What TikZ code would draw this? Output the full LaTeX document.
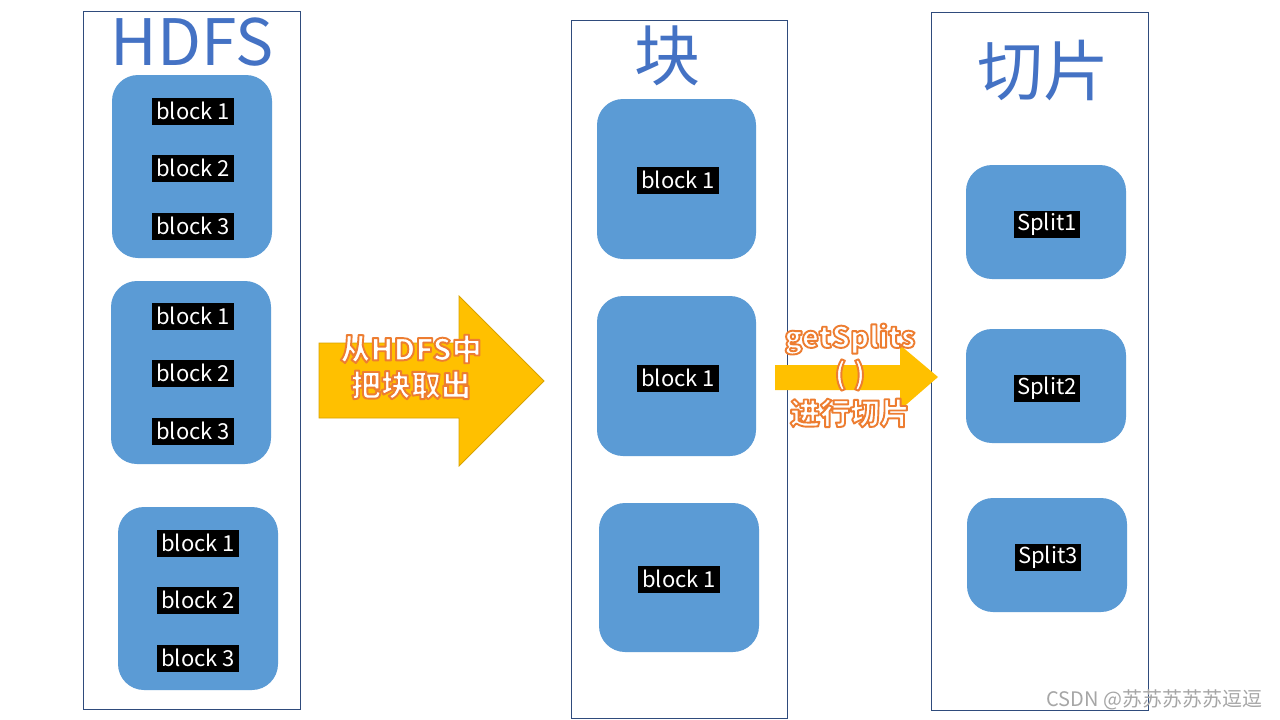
\documentclass[tikz,border=0pt]{standalone}
\usepackage{fontspec}
\setmainfont{Noto Sans CJK SC}
\definecolor{frameblue}{HTML}{2F4B7C}
\definecolor{boxblue}{HTML}{5B9BD5}
\definecolor{titleblue}{HTML}{4472C4}
\definecolor{arrowyellow}{HTML}{FFC000}
\definecolor{arrowedge}{HTML}{D9A300}
\definecolor{txtorange}{HTML}{ED7D31}
\tikzset{
  frame/.style={draw=frameblue, line width=0.9pt},
  bluebox/.style={fill=boxblue, rounded corners=26pt},
  lbl/.style={fill=black, text=white, font=\fontsize{22}{24}\selectfont, inner xsep=4pt, inner ysep=1pt, minimum height=27pt},
  title/.style={text=titleblue},
  arrowtxt/.style={font=\fontsize{30}{34}\selectfont\bfseries, inner sep=0pt},
  bigarrow/.style={fill=arrowyellow, draw=arrowedge, line width=0.8pt}
}
\newcommand{\otxt}[1]{{\color{white}\special{pdf:literal direct 2 Tr 1.9 w 1 j 0.929 0.490 0.192 RG}#1\special{pdf:literal direct 0 Tr}}}
\begin{document}
\begin{tikzpicture}[x=1pt,y=-1pt]
\useasboundingbox[fill=white] (0,0) rectangle (1280,720);
% frames
\draw[frame] (83,11) rectangle (300,709);
\draw[frame] (571,20) rectangle (787,718);
\draw[frame] (931,12) rectangle (1148,710);
% titles
\node[title, font=\fontsize{64}{70}\selectfont] (thdfs) at (192,42) {HDFS};
\node[title, font=\fontsize{66}{70}\selectfont] (tblock) at (667,56) {块};
\node[title, font=\fontsize{66}{70}\selectfont] (tsplit) at (1043,71) {切片};
% HDFS boxes
\fill[bluebox] (112,75) rectangle (272,258);
\fill[bluebox] (111,281) rectangle (271,464);
\fill[bluebox] (118,507) rectangle (278,690);
\node[lbl] (h11) at (193,111) {block 1};
\node[lbl] (h12) at (193,168) {block 2};
\node[lbl] (h13) at (193,226) {block 3};
\node[lbl] (h21) at (193,316) {block 1};
\node[lbl] (h22) at (193,373) {block 2};
\node[lbl] (h23) at (193,431) {block 3};
\node[lbl] (h31) at (198,543) {block 1};
\node[lbl] (h32) at (198,600) {block 2};
\node[lbl] (h33) at (198,658) {block 3};
% block boxes
\fill[bluebox] (597,99) rectangle (756,259);
\fill[bluebox] (597,296) rectangle (756,456);
\fill[bluebox] (599,503) rectangle (759,652);
\node[lbl] (b1) at (678,180) {block 1};
\node[lbl] (b2) at (678,378) {block 1};
\node[lbl] (b3) at (679,579) {block 1};
% split boxes
\fill[bluebox] (966,165) rectangle (1126,279);
\fill[bluebox] (966,329) rectangle (1126,443);
\fill[bluebox] (967,498) rectangle (1127,612);
\node[lbl, inner xsep=3pt] (s1) at (1047,224) {Split1};
\node[lbl, inner xsep=3pt] (s2) at (1047,388) {Split2};
\node[lbl, inner xsep=3pt] (s3) at (1048,557) {Split3};
% big arrow
\draw[bigarrow] (319,343) -- (459,343) -- (459,296) -- (544,381) -- (459,466) -- (459,418) -- (319,418) -- cycle;
\node[arrowtxt] (a1) at (411,349) {\otxt{从HDFS中}};
\node[arrowtxt] (a2) at (411,385) {\otxt{把块取出}};
% small arrow
\fill[arrowyellow] (775,365) -- (900,365) -- (900,345) -- (938,377) -- (900,410) -- (900,390) -- (775,390) -- cycle;
\node[arrowtxt, font=\fontsize{29}{32}\selectfont\bfseries] (g1) at (850,339) {\otxt{getSplits}};
\node[arrowtxt] (g2) at (850,375) {\otxt{( )}};
\node[arrowtxt] (g3) at (850,413) {\otxt{进行切片}};
% watermark
\node[text=gray!70, font=\fontsize{20}{22}\selectfont, anchor=east] (wm) at (1266,700) {CSDN @苏苏苏苏苏逗逗};
\end{tikzpicture}
\end{document}
